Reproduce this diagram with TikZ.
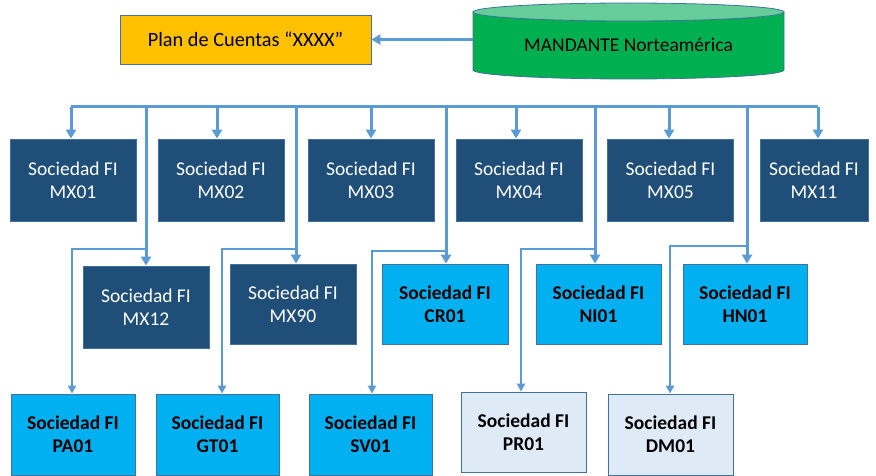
\documentclass[tikz,border=0pt]{standalone}
\usepackage{fontspec}
\setmainfont{Carlito}
\usetikzlibrary{arrows.meta}
\definecolor{conn}{HTML}{5B9BD5}
\definecolor{darkbox}{HTML}{1F4E79}
\definecolor{lightbox}{HTML}{00B0F0}
\definecolor{palebox}{HTML}{DEEBF7}
\definecolor{boxborder}{HTML}{41719C}
\definecolor{planfill}{HTML}{FFC000}
\definecolor{cylbody}{HTML}{00B050}
\definecolor{cyltop}{HTML}{66CC99}
\begin{document}
\begin{tikzpicture}[x=1pt,y=1pt,
  every node/.style={font=\fontsize{19.5}{23}\selectfont, align=center, inner sep=0pt},
  basebox/.style={rectangle, draw=boxborder, line width=0.8pt, minimum width=126pt, minimum height=82pt},
  darkstyle/.style={basebox, fill=darkbox, text=white},
  lightstyle/.style={basebox, fill=lightbox, text=black, font=\fontsize{19.5}{23}\selectfont\bfseries},
  palestyle/.style={basebox, fill=palebox, text=black, font=\fontsize{19.5}{23}\selectfont\bfseries},
  mainline/.style={draw=conn, line width=3pt},
  mainarrow/.style={mainline, -{Triangle[length=9pt,width=10pt]}},
  brarrow/.style={draw=conn, line width=2pt, -{Triangle[length=8pt,width=8pt]}}
]
\useasboundingbox (0,0) rectangle (876,475);

% cylinder
\fill[cylbody, draw=boxborder, line width=0.8pt] (473,463) -- (473,405)
  arc[start angle=180, end angle=360, x radius=155.5, y radius=9] -- (784,463) -- cycle;
\filldraw[fill=cyltop, draw=boxborder, line width=0.8pt] (628.5,463) ellipse[x radius=155.5, y radius=9];
\node[minimum width=311pt, minimum height=40pt] (mand) at (628.5,430) {MANDANTE Norteamérica};

% plan box
\node[rectangle, fill=planfill, draw=boxborder, line width=0.8pt, minimum width=251pt, minimum height=49pt, font=\fontsize{20.3}{24}\selectfont] (plan) at (245.5,435.5) {Plan de Cuentas “XXXX”};
\draw[mainarrow] (mand.west |- plan.east) -- (plan.east);

% row 1
\node[darkstyle] (mx01) at (73,295) {Sociedad FI\\MX01};
\node[darkstyle] (mx02) at (221,295) {Sociedad FI\\MX02};
\node[darkstyle] (mx03) at (371,295) {Sociedad FI\\MX03};
\node[darkstyle] (mx04) at (519,295) {Sociedad FI\\MX04};
\node[darkstyle] (mx05) at (670.5,295) {Sociedad FI\\MX05};
\node[darkstyle, minimum width=108pt] (mx11) at (814,295) {Sociedad FI\\MX11};

% row 2
\node[darkstyle] (mx12) at (146,168) {Sociedad FI\\MX12};
\node[darkstyle, minimum height=80pt] (mx90) at (293,171) {Sociedad FI\\MX90};
\node[lightstyle, minimum height=80pt] (cr01) at (445,171) {Sociedad FI\\CR01};
\node[lightstyle, minimum height=80pt, minimum width=125pt] (ni01) at (598.5,171) {Sociedad FI\\NI01};
\node[lightstyle, minimum height=80pt, minimum width=124pt] (hn01) at (745,171) {Sociedad FI\\HN01};

% row 3
\node[lightstyle, minimum width=124pt, minimum height=81pt] (pa01) at (73,40.5) {Sociedad FI\\PA01};
\node[lightstyle, minimum width=123pt, minimum height=81pt] (gt01) at (217.5,40.5) {Sociedad FI\\GT01};
\node[lightstyle, minimum width=123pt, minimum height=81pt] (sv01) at (370.5,40.5) {Sociedad FI\\SV01};
\node[palestyle, minimum width=125pt, minimum height=80pt] (pr01) at (523.5,43) {Sociedad FI\\PR01};
\node[palestyle, minimum width=125pt, minimum height=81pt] (dm01) at (670.5,40.5) {Sociedad FI\\DM01};

% bus
\coordinate (bus) at (0,368);
\coordinate (bustop) at (0,370);
\draw[mainline] ([xshift=-2pt]mx01.north |- bus) -- ([xshift=4pt]mx11.north |- bus);

% drops to row 1
\draw[mainarrow] ([xshift=-2pt]mx01.north |- bus) -- ([xshift=-2pt]mx01.north);
\draw[mainarrow] ([xshift=-4pt]mx02.north |- bus) -- ([xshift=-4pt]mx02.north);
\draw[mainarrow] (mx03.north |- bus) -- (mx03.north);
\draw[mainarrow] ([xshift=-3pt]mx04.north |- bus) -- ([xshift=-3pt]mx04.north);
\draw[mainarrow] ([xshift=-1.5pt]mx05.north |- bus) -- ([xshift=-1.5pt]mx05.north);
\draw[mainarrow] ([xshift=4pt]mx11.north |- bus) -- ([xshift=4pt]mx11.north);

% drops to row 2
\draw[mainarrow] (mx12.north |- bustop) -- (mx12.north);
\draw[mainarrow] ([xshift=3pt]mx90.north |- bustop) -- ([xshift=3pt]mx90.north);
\draw[mainarrow] ([xshift=1pt]cr01.north |- bustop) -- ([xshift=1pt]cr01.north);
\draw[mainarrow] ([xshift=-3.5pt]ni01.north |- bustop) -- ([xshift=-3.5pt]ni01.north);
\draw[mainarrow] ([xshift=2pt]hn01.north |- bustop) -- ([xshift=2pt]hn01.north);

% branches to row 3
\coordinate (j1) at (146,226);
\coordinate (j2) at (296,226);
\coordinate (j3) at (446,224);
\coordinate (j4) at (595,226);
\coordinate (j5) at (747,229);
\draw[brarrow] (j1) -| ([xshift=-1pt]pa01.north);
\draw[brarrow] (j2) -| ([xshift=4.5pt]gt01.north);
\draw[brarrow] (j3) -| ([xshift=1.5pt]sv01.north);
\draw[brarrow] (j4) -| ([xshift=-2.5pt]pr01.north);
\draw[brarrow] (j5) -| ([xshift=-0.5pt]dm01.north);
\end{tikzpicture}
\end{document}
